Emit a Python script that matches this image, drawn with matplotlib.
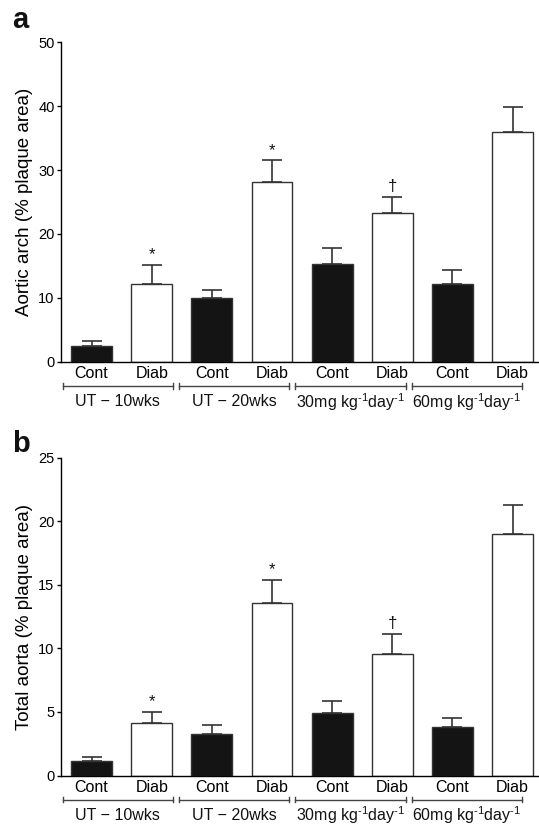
import matplotlib
matplotlib.use("Agg")
import matplotlib.pyplot as plt
import numpy as np

plt.rcParams.update({
    "font.family": ["Liberation Sans", "DejaVu Sans"],
    "mathtext.default": "regular",
    "mathtext.fontset": "custom",
    "mathtext.rm": "Liberation Sans",
    "mathtext.it": "Liberation Sans:italic",
    "mathtext.bf": "Liberation Sans:bold",
    "axes.linewidth": 1.0,
    "text.color": "#111111",
})

# bars, in order: Cont/Diab for each treatment group
bar_labels = ["Cont", "Diab", "Cont", "Diab", "Cont", "Diab", "Cont", "Diab"]
diabetic = [False, True, False, True, False, True, False, True]
group_labels = ["UT \u2212 10wks", "UT \u2212 20wks",
                r"30mg kg$^{\text{-1}}$day$^{\text{-1}}$",
                r"60mg kg$^{\text{-1}}$day$^{\text{-1}}$"]
marks = ["", "*", "", "*", "", "\u2020", "", ""]

# panel a: aortic arch (% plaque area)
arch_mean = [2.5, 12.2, 9.9, 28.2, 15.3, 23.3, 12.2, 36.0]
arch_err = [0.7, 3.0, 1.4, 3.3, 2.5, 2.5, 2.2, 3.8]
# panel b: total aorta (% plaque area)
aorta_mean = [1.15, 4.1, 3.3, 13.6, 4.95, 9.55, 3.8, 19.0]
aorta_err = [0.3, 0.9, 0.7, 1.8, 0.95, 1.6, 0.75, 2.25]

BLACK = "#141414"
EDGE = "#333333"

fig = plt.figure(figsize=(5.39, 8.26), dpi=100)
ax_a = fig.add_axes([0.1141, 0.5621, 0.886, 0.3867])
ax_b = fig.add_axes([0.1141, 0.0611, 0.886, 0.3848])


def panel(ax, mean, err, ymax, step, ylabel, letter, letter_y):
    x = np.arange(len(mean))
    cols = ["white" if d else BLACK for d in diabetic]
    ax.bar(x, mean, width=0.68, color=cols, edgecolor=EDGE, linewidth=1.0,
           yerr=[np.zeros(len(err)), err],
           error_kw=dict(ecolor=EDGE, elinewidth=1.2, capsize=7, capthick=1.2),
           zorder=2)
    for i in range(len(mean)):
        if marks[i]:
            ax.annotate(marks[i], (x[i], mean[i] + err[i]), xytext=(0, 2),
                        textcoords="offset points", ha="center", va="bottom",
                        fontsize=12)
    ax.set_xlim(-0.5, 7.44)
    ax.set_ylim(0, ymax)
    ax.set_yticks(np.arange(0, ymax + 0.1, step))
    ax.tick_params(axis="y", length=3, width=1, labelsize=10.5, pad=2)
    ax.set_xticks(x)
    ax.set_xticklabels(bar_labels, fontsize=11.5)
    ax.tick_params(axis="x", length=0, pad=3)
    for s in ["top", "right"]:
        ax.spines[s].set_visible(False)
    ax.set_ylabel(ylabel, fontsize=13.5, labelpad=4)

    # group brackets under the bar labels
    tr = ax.get_xaxis_transform()
    for g, lab in enumerate(group_labels):
        x0 = -0.48 + 1.935 * g
        x1 = x0 + 1.83
        ax.plot([x0, x1], [-0.0755, -0.0755], transform=tr, clip_on=False,
                color="#444444", lw=1.0)
        for xe in (x0, x1):
            ax.plot([xe, xe], [-0.0665, -0.0845], transform=tr, clip_on=False,
                    color="#444444", lw=1.0)
        ax.text((x0 + x1) / 2, -0.126, lab, transform=tr, ha="center",
                va="center", fontsize=11.5)

    fig.text(0.022, letter_y, letter, fontsize=21, fontweight="bold",
             ha="left", va="baseline")


panel(ax_a, arch_mean, arch_err, 50, 10, "Aortic arch (% plaque area)", "a", 0.966)
panel(ax_b, aorta_mean, aorta_err, 25, 5, "Total aorta (% plaque area)", "b", 0.453)

fig.savefig("out.png", dpi=100, facecolor="white")
